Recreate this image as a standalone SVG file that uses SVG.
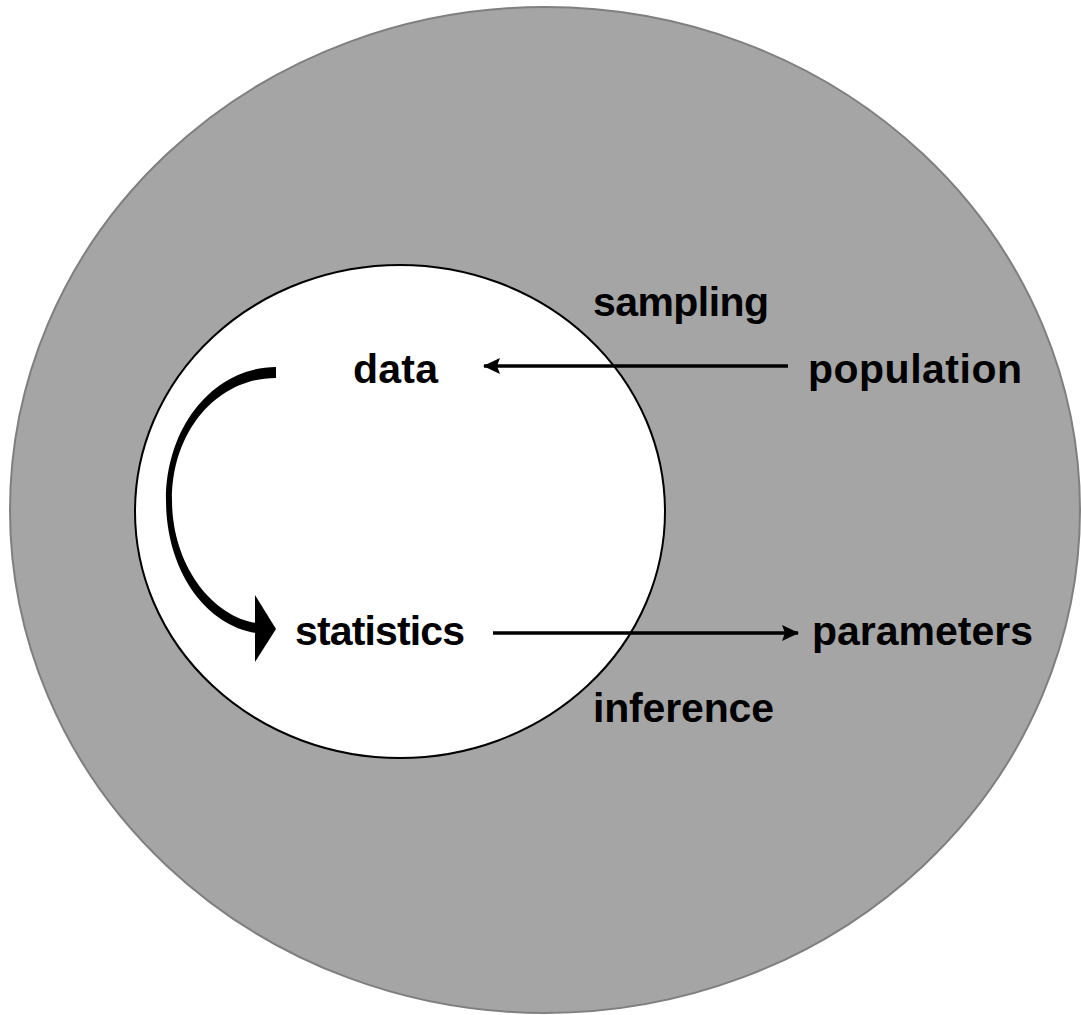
<svg xmlns="http://www.w3.org/2000/svg" width="1081" height="1015" viewBox="0 0 1081 1015">
<defs>
<style>
.lbl{font-family:"Liberation Sans",Arial,sans-serif;font-weight:bold;font-size:41px;fill:#000}
.conn{stroke:#000;stroke-width:3.5;fill:none}
</style>
<marker id="ah" markerUnits="userSpaceOnUse" markerWidth="18" markerHeight="18" viewBox="0 0 18 18" refX="16" refY="9" orient="auto">
<path d="M0,1 L17,9 L0,17 L3,9 Z" fill="#000"/>
</marker>
</defs>
<rect width="1081" height="1015" fill="#fff"/>
<g id="population-region">
<ellipse cx="545" cy="510" rx="535" ry="503" fill="#a5a5a5" stroke="#7f7f7f" stroke-width="2"/>
</g>
<g id="sample-region">
<ellipse cx="400" cy="511.5" rx="265" ry="246.5" fill="#fff" stroke="#000" stroke-width="2"/>
</g>
<g id="connectors">
<line class="conn" x1="788" y1="366" x2="484" y2="366" marker-end="url(#ah)"/>
<line class="conn" x1="493" y1="633" x2="798" y2="633" marker-end="url(#ah)"/>
<path d="M276,367 C215,367 166,425 166,500 C166,570 205,625 256,633 L256,623 C212,616 172,565 172,500 C172,430 218,378 276,378 Z" fill="#000"/>
<path d="M255,595 L276,629 L255,662 Z" fill="#000"/>
</g>
<g id="node-sampling"><text class="lbl" x="593" y="316" textLength="176">sampling</text></g>
<g id="node-data"><text class="lbl" x="353" y="383" textLength="85">data</text></g>
<g id="node-population"><text class="lbl" x="808" y="383" textLength="214">population</text></g>
<g id="node-statistics"><text class="lbl" x="295" y="645" textLength="170">statistics</text></g>
<g id="node-parameters"><text class="lbl" x="812" y="645" textLength="221">parameters</text></g>
<g id="node-inference"><text class="lbl" x="593" y="722" textLength="181">inference</text></g>
</svg>
